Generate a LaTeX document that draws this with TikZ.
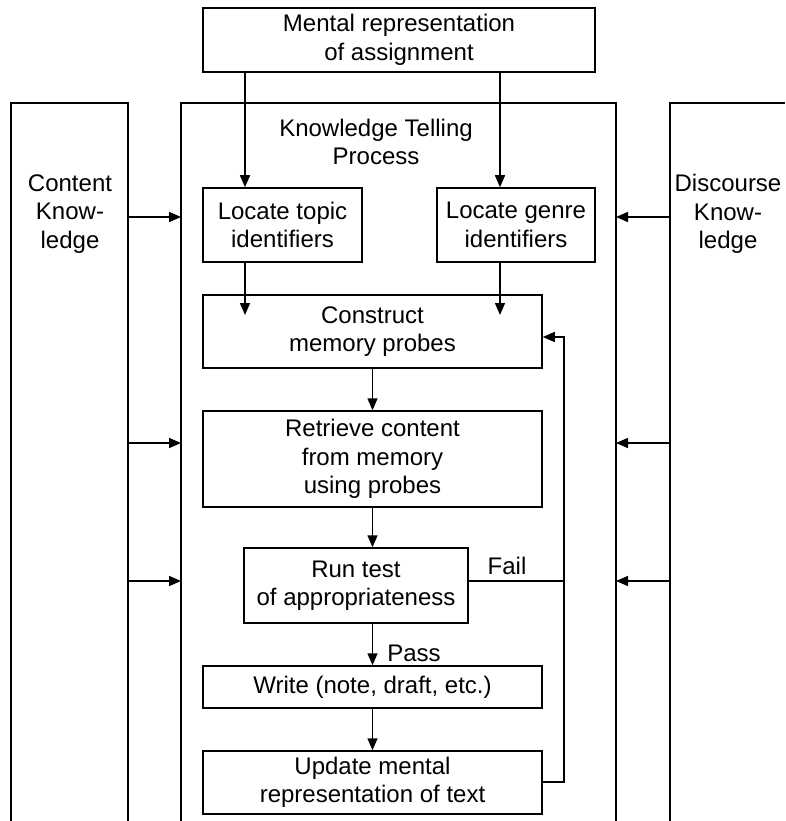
\documentclass[tikz,border=0pt]{standalone}
\usepackage{fontspec}
\setmainfont{Liberation Sans}
\usetikzlibrary{arrows.meta}
\begin{document}
\begin{tikzpicture}[x=1pt,y=-1pt,
  every node/.style={font=\fontsize{24}{28.5}\selectfont},
  box/.style={draw,line width=1.5pt,inner sep=0pt,align=center,anchor=center},
  lbl/.style={inner sep=0pt,align=center},
  arr/.style={line width=1.5pt,-{Triangle[length=12pt,width=10pt]}},
  ln/.style={line width=1.5pt}]
\useasboundingbox (0,0) rectangle (785,821);
% boxes
\node[box,minimum width=392pt,minimum height=64pt] (mental) at (399,40) {Mental representation\\of assignment};
\node[box,minimum width=159pt,minimum height=74pt] (topic) at (282.5,225) {Locate topic\\identifiers};
\node[box,minimum width=158pt,minimum height=74pt] (genre) at (516,225) {Locate genre\\identifiers};
\node[box,minimum width=339pt,minimum height=73pt] (construct) at (372.5,331.5) {Construct\\memory probes};
\node[box,minimum width=339pt,minimum height=96pt] (retrieve) at (372.5,459) {Retrieve content\\from memory\\using probes};
\node[box,minimum width=224pt,minimum height=75pt] (runtest) at (356,585.5) {Run test\\of appropriateness};
\node[box,minimum width=339pt,minimum height=42pt] (write) at (372.5,687) {Write (note, draft, etc.)};
\node[box,minimum width=339pt,minimum height=63pt] (update) at (372.5,782.5) {Update mental\\representation of text};
% columns (open at the bottom)
\draw[ln] (11,821) -- (11,103) -- (128,103) -- (128,821);
\draw[ln] (181,821) -- (181,103) -- (616,103) -- (616,821);
\draw[ln] (670,821) -- (670,103) -- (785,103);
% labels
\node[lbl] (ktp) at (376,142) {Knowledge Telling\\Process};
\node[lbl] (ck) at (70,214) {Content\\Know-\\ledge};
\node[lbl] (dk) at (728,214) {Discourse\\Know-\\ledge};
\node[lbl] (fail) at (507,566) {Fail};
\node[lbl] (pass) at (414,653) {Pass};
% named coordinates
\coordinate (xa) at (245,0);
\coordinate (xb) at (500,0);
\coordinate (cEdge) at (128,0);
\coordinate (pEdgeL) at (181,0);
\coordinate (pEdgeR) at (616,0);
\coordinate (dEdge) at (670,0);
\coordinate (y1) at (0,217);
\coordinate (y2) at (0,443);
\coordinate (y3) at (0,581);
\coordinate (yin) at (0,315);
\coordinate (yloop) at (0,337);
\coordinate (yupd) at (0,782);
\coordinate (xloop) at (564,0);
% arrows from mental representation
\draw[arr] (mental.south -| xa) -- (topic.north -| xa);
\draw[arr] (mental.south -| xb) -- (genre.north -| xb);
\draw[arr] (topic.south -| xa) -- (yin -| xa);
\draw[arr] (genre.south -| xb) -- (yin -| xb);
% main chain
\draw[arr] (construct.south) -- (retrieve.north);
\draw[arr] (retrieve.south) -- (runtest.north -| retrieve.south);
\draw[arr] (runtest.south -| write.north) -- (write.north);
\draw[arr] (write.south) -- (update.north);
% loop back
\draw[arr] (yupd -| update.east) -- (yupd -| xloop) -- (yloop -| xloop) -- (yloop -| construct.east);
\draw[ln] (y3 -| runtest.east) -- (y3 -| xloop);
% side arrows
\foreach \yy in {y1,y2,y3}{
  \draw[arr] (\yy -| cEdge) -- (\yy -| pEdgeL);
  \draw[arr] (\yy -| dEdge) -- (\yy -| pEdgeR);
}
\end{tikzpicture}
\end{document}
